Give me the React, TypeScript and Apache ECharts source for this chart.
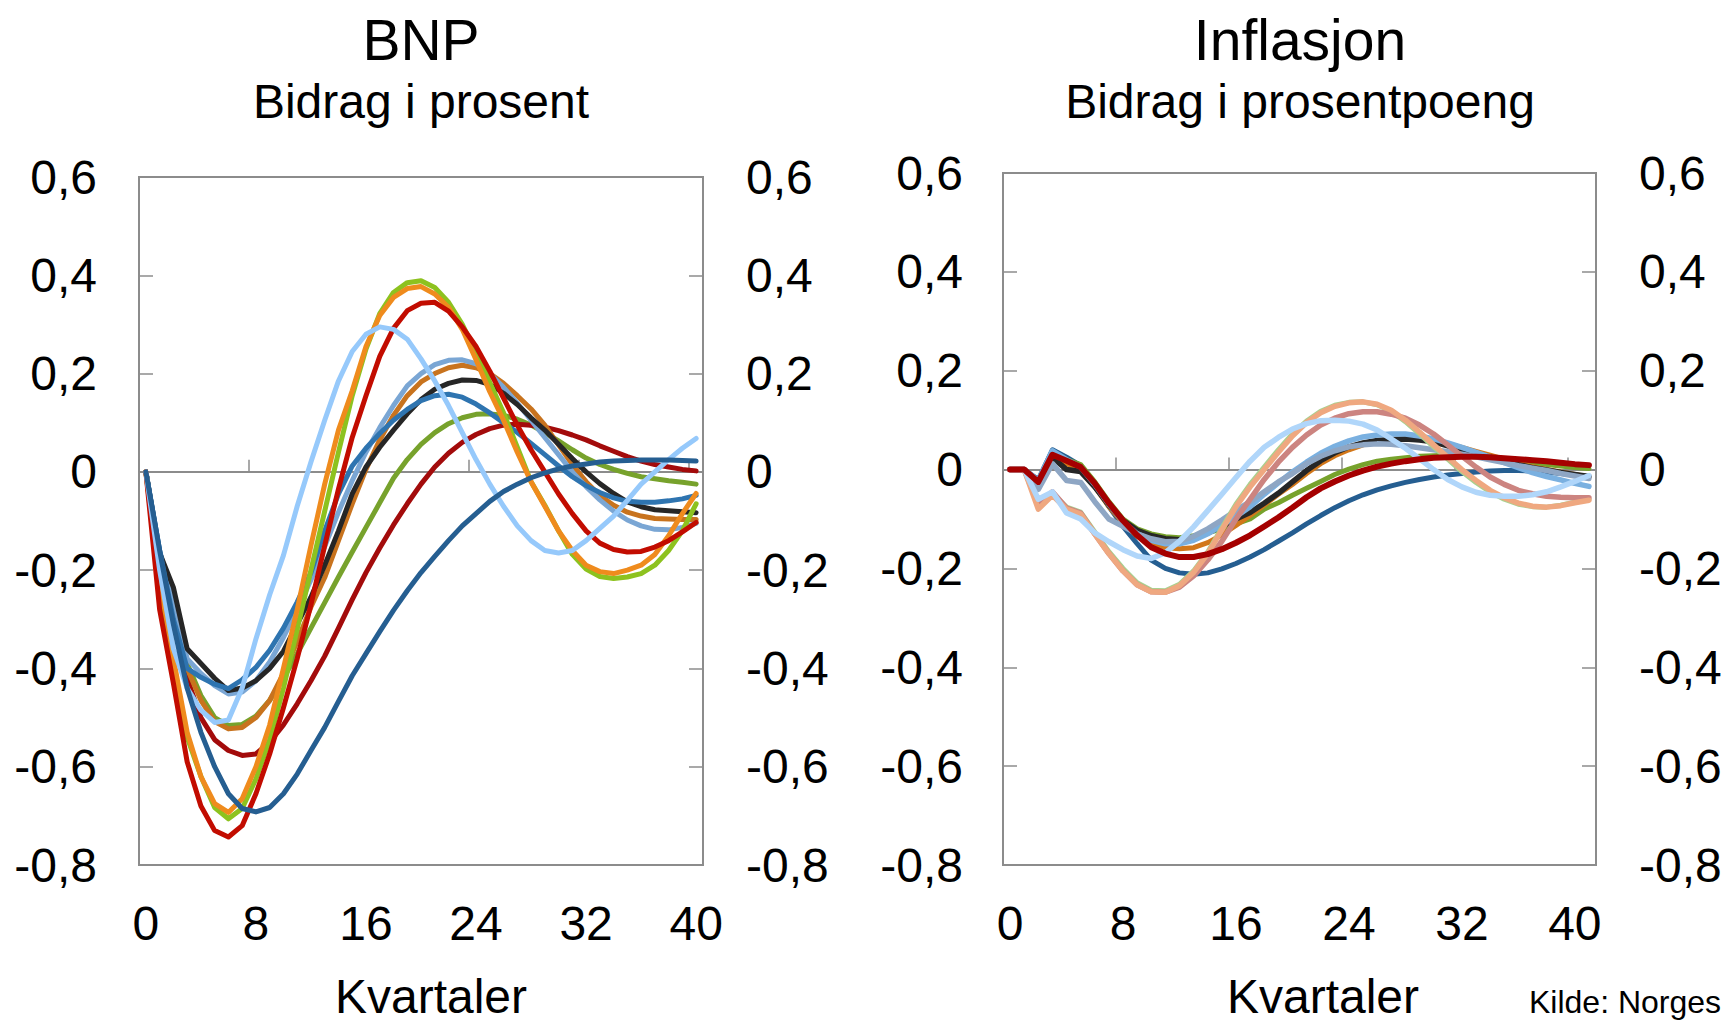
import React, { useEffect, useRef } from "react";
import * as echarts from "echarts";

// ---------- categories ----------
const bnpQuarters = ["0","1","2","3","4","5","6","7","8","9","10","11","12","13","14","15","16","17","18","19","20","21","22","23","24","25","26","27","28","29","30","31","32","33","34","35","36","37","38","39","40"];
const inflQuarters = ["0","1","2","3","4","5","6","7","8","9","10","11","12","13","14","15","16","17","18","19","20","21","22","23","24","25","26","27","28","29","30","31","32","33","34","35","36","37","38","39","40","41"];

// ---------- BNP (left panel) ----------
const bnpOlive = [0,-0.17,-0.29,-0.39,-0.455,-0.5,-0.516,-0.514,-0.497,-0.465,-0.42,-0.37,-0.318,-0.266,-0.214,-0.163,-0.113,-0.063,-0.013,0.025,0.056,0.08,0.098,0.11,0.117,0.118,0.115,0.107,0.095,0.08,0.063,0.045,0.028,0.015,0.005,-0.003,-0.01,-0.014,-0.018,-0.021,-0.025];
const bnpDarkRed = [0,-0.18,-0.31,-0.42,-0.5,-0.545,-0.567,-0.577,-0.574,-0.55,-0.515,-0.472,-0.425,-0.375,-0.318,-0.26,-0.205,-0.155,-0.108,-0.065,-0.025,0.01,0.038,0.06,0.076,0.088,0.095,0.097,0.095,0.091,0.084,0.075,0.065,0.053,0.042,0.031,0.022,0.015,0.01,0.005,0.002];
const bnpBrown = [0,-0.17,-0.29,-0.4,-0.465,-0.508,-0.523,-0.52,-0.5,-0.465,-0.41,-0.345,-0.275,-0.215,-0.14,-0.065,0.005,0.065,0.115,0.155,0.183,0.2,0.212,0.217,0.212,0.2,0.18,0.155,0.128,0.095,0.055,0.015,-0.02,-0.048,-0.068,-0.082,-0.09,-0.095,-0.096,-0.097,-0.097];
const bnpSteel = [0,-0.16,-0.27,-0.38,-0.41,-0.435,-0.452,-0.448,-0.425,-0.387,-0.337,-0.28,-0.22,-0.152,-0.082,-0.018,0.04,0.09,0.135,0.175,0.2,0.218,0.227,0.228,0.22,0.2,0.172,0.14,0.105,0.07,0.035,0,-0.03,-0.057,-0.08,-0.098,-0.11,-0.117,-0.118,-0.113,-0.105];
const bnpBlack = [0,-0.165,-0.235,-0.36,-0.39,-0.42,-0.445,-0.44,-0.425,-0.4,-0.365,-0.31,-0.255,-0.19,-0.12,-0.045,0.01,0.05,0.085,0.118,0.147,0.168,0.18,0.187,0.186,0.178,0.16,0.137,0.11,0.085,0.056,0.027,0,-0.024,-0.044,-0.061,-0.071,-0.077,-0.079,-0.081,-0.083];
const bnpBlue = [0,-0.16,-0.3,-0.4,-0.418,-0.432,-0.441,-0.423,-0.398,-0.363,-0.318,-0.265,-0.205,-0.12,-0.045,0.012,0.048,0.078,0.105,0.127,0.145,0.155,0.158,0.152,0.138,0.12,0.1,0.08,0.058,0.035,0.012,-0.01,-0.028,-0.042,-0.053,-0.06,-0.062,-0.062,-0.059,-0.055,-0.048];
const bnpGreen = [0,-0.24,-0.4,-0.54,-0.62,-0.683,-0.706,-0.685,-0.625,-0.545,-0.44,-0.32,-0.2,-0.08,0.04,0.155,0.25,0.322,0.365,0.385,0.389,0.375,0.345,0.3,0.243,0.182,0.12,0.05,-0.02,-0.068,-0.12,-0.168,-0.198,-0.213,-0.217,-0.214,-0.207,-0.19,-0.16,-0.12,-0.065];
const bnpOrange = [0,-0.22,-0.38,-0.53,-0.62,-0.675,-0.693,-0.665,-0.6,-0.515,-0.4,-0.28,-0.15,-0.025,0.085,0.165,0.255,0.318,0.355,0.373,0.377,0.362,0.335,0.29,0.228,0.163,0.105,0.04,-0.02,-0.07,-0.12,-0.16,-0.19,-0.203,-0.207,-0.2,-0.19,-0.168,-0.13,-0.085,-0.044];
const bnpRed = [0,-0.28,-0.43,-0.59,-0.68,-0.73,-0.743,-0.72,-0.655,-0.574,-0.48,-0.38,-0.27,-0.15,-0.035,0.07,0.155,0.235,0.292,0.328,0.343,0.345,0.327,0.295,0.255,0.205,0.15,0.095,0.045,0,-0.045,-0.085,-0.12,-0.145,-0.158,-0.163,-0.162,-0.153,-0.14,-0.122,-0.103];
const bnpSky = [0,-0.2,-0.36,-0.44,-0.485,-0.51,-0.505,-0.44,-0.34,-0.25,-0.17,-0.07,0.02,0.105,0.185,0.245,0.28,0.295,0.29,0.27,0.23,0.185,0.135,0.08,0.025,-0.025,-0.07,-0.11,-0.14,-0.16,-0.165,-0.16,-0.14,-0.115,-0.09,-0.058,-0.025,0,0.025,0.048,0.068];
const bnpNavy = [0,-0.16,-0.31,-0.44,-0.53,-0.6,-0.655,-0.685,-0.692,-0.683,-0.655,-0.615,-0.567,-0.52,-0.467,-0.415,-0.37,-0.325,-0.282,-0.242,-0.205,-0.172,-0.14,-0.11,-0.085,-0.06,-0.04,-0.025,-0.012,-0.002,0.006,0.012,0.016,0.02,0.022,0.023,0.024,0.024,0.024,0.023,0.022];

// ---------- Inflasjon (right panel) ----------
const inflNavy = [0,0,-0.02,0.04,0.025,0.008,-0.03,-0.075,-0.115,-0.15,-0.183,-0.2,-0.209,-0.212,-0.209,-0.201,-0.19,-0.177,-0.162,-0.145,-0.128,-0.11,-0.093,-0.077,-0.063,-0.051,-0.041,-0.033,-0.026,-0.02,-0.015,-0.011,-0.008,-0.005,-0.003,-0.002,-0.002,-0.003,-0.005,-0.008,-0.011,-0.014];
const inflOlive = [0,0,-0.025,0.035,0.02,0.01,-0.025,-0.065,-0.1,-0.12,-0.13,-0.136,-0.138,-0.134,-0.128,-0.12,-0.11,-0.1,-0.08,-0.067,-0.052,-0.038,-0.024,-0.01,0.001,0.01,0.017,0.021,0.024,0.027,0.028,0.029,0.028,0.026,0.023,0.02,0.017,0.013,0.01,0.007,0.004,0.002];
const inflBrown = [0,0,-0.028,0.03,0.012,0,-0.035,-0.075,-0.108,-0.135,-0.15,-0.158,-0.16,-0.158,-0.148,-0.132,-0.113,-0.093,-0.072,-0.05,-0.03,-0.008,0.012,0.028,0.04,0.05,0.056,0.06,0.062,0.061,0.058,0.052,0.045,0.037,0.029,0.021,0.013,0.006,0,-0.005,-0.01,-0.015];
const inflBlack = [0,0,-0.028,0.025,0,-0.004,-0.035,-0.072,-0.103,-0.123,-0.134,-0.14,-0.142,-0.137,-0.128,-0.115,-0.1,-0.087,-0.068,-0.048,-0.025,-0.002,0.018,0.034,0.046,0.054,0.059,0.061,0.062,0.06,0.056,0.048,0.04,0.032,0.025,0.017,0.01,0.004,-0.001,-0.006,-0.01,-0.014];
const inflSteel = [0,0,-0.022,0.038,0.02,0.005,-0.03,-0.07,-0.105,-0.13,-0.143,-0.15,-0.15,-0.143,-0.13,-0.113,-0.095,-0.075,-0.05,-0.027,-0.005,0.015,0.033,0.047,0.058,0.066,0.07,0.072,0.072,0.068,0.062,0.054,0.045,0.035,0.025,0.014,0.004,-0.006,-0.014,-0.021,-0.028,-0.034];
const inflGrayBlue = [0,0,-0.04,0.012,-0.022,-0.026,-0.065,-0.1,-0.115,-0.13,-0.14,-0.146,-0.145,-0.135,-0.12,-0.102,-0.083,-0.065,-0.045,-0.025,-0.008,0.012,0.027,0.038,0.046,0.05,0.052,0.051,0.048,0.044,0.04,0.036,0.031,0.026,0.02,0.014,0.008,0.003,-0.002,-0.008,-0.013,-0.018];
const inflLightGreen = [0,0,-0.075,-0.048,-0.076,-0.086,-0.126,-0.166,-0.2,-0.229,-0.244,-0.245,-0.232,-0.205,-0.167,-0.118,-0.07,-0.03,0.005,0.04,0.072,0.098,0.118,0.13,0.136,0.137,0.131,0.118,0.097,0.072,0.046,0.021,-0.004,-0.026,-0.045,-0.06,-0.07,-0.075,-0.076,-0.072,-0.066,-0.06];
const inflRose = [0,0,-0.07,-0.045,-0.078,-0.088,-0.13,-0.17,-0.205,-0.233,-0.247,-0.248,-0.238,-0.215,-0.183,-0.145,-0.1,-0.06,-0.02,0.015,0.045,0.07,0.09,0.104,0.113,0.117,0.117,0.112,0.104,0.09,0.072,0.05,0.027,0.005,-0.015,-0.03,-0.042,-0.049,-0.054,-0.056,-0.057,-0.057];
const inflSalmon = [0,0,-0.08,-0.052,-0.08,-0.09,-0.13,-0.17,-0.205,-0.233,-0.247,-0.248,-0.235,-0.208,-0.17,-0.122,-0.075,-0.035,0,0.035,0.068,0.095,0.115,0.128,0.135,0.137,0.132,0.12,0.1,0.076,0.05,0.025,0,-0.022,-0.042,-0.057,-0.068,-0.074,-0.076,-0.073,-0.067,-0.062];
const inflSky = [0,0,-0.06,-0.045,-0.088,-0.1,-0.128,-0.146,-0.162,-0.175,-0.18,-0.168,-0.145,-0.116,-0.083,-0.05,-0.016,0.017,0.045,0.065,0.082,0.093,0.099,0.1,0.098,0.092,0.08,0.062,0.043,0.022,0,-0.02,-0.035,-0.046,-0.052,-0.054,-0.054,-0.051,-0.045,-0.035,-0.024,-0.012];
const inflDarkRed = [0,0,-0.025,0.03,0.018,0.005,-0.028,-0.068,-0.103,-0.133,-0.157,-0.17,-0.177,-0.177,-0.171,-0.161,-0.148,-0.133,-0.115,-0.097,-0.077,-0.056,-0.038,-0.024,-0.012,-0.002,0.006,0.012,0.017,0.021,0.024,0.025,0.026,0.026,0.025,0.023,0.021,0.019,0.017,0.014,0.011,0.009];

// ---------- axis settings ----------
const yMin = -0.8;
const yMax = 0.6;
const yStep = 0.2;
const xLabelEvery = 8;

const FONT = "'Liberation Sans', Arial, Helvetica, sans-serif";
const FRAME = "#8c8c8c";

const fmtY = (v: number) => {
  const r = Math.round(v * 10) / 10;
  return r === 0 ? "0" : r.toFixed(1).replace(".", ",");
};

function buildOption() {
  const leftSeries: [number[], string, number][] = [
    [bnpOlive, "#77a22c", 5],
    [bnpDarkRed, "#a30b0b", 5],
    [bnpBrown, "#c8731e", 5],
    [bnpSteel, "#7aa6d4", 5],
    [bnpBlack, "#262626", 5],
    [bnpBlue, "#2e74b0", 5],
    [bnpGreen, "#8dc21f", 5],
    [bnpOrange, "#ef8b1d", 5],
    [bnpRed, "#c20c00", 5],
    [bnpSky, "#96c9fb", 5],
    [bnpNavy, "#255e91", 5],
  ];
  const rightSeries: [number[], string, number][] = [
    [inflNavy, "#255e91", 5],
    [inflOlive, "#77a22c", 5],
    [inflBrown, "#d2771a", 5],
    [inflBlack, "#262626", 5.5],
    [inflSteel, "#7ab0e0", 5.5],
    [inflGrayBlue, "#8ea6c4", 5.5],
    [inflLightGreen, "#a9d18e", 5],
    [inflRose, "#cc8480", 5.5],
    [inflSalmon, "#efa880", 5.5],
    [inflSky, "#b0d6fa", 5.5],
    [inflDarkRed, "#a50000", 6],
  ];

  const mkX = (grid: number, data: string[]) => ({
    type: "category",
    gridIndex: grid,
    data,
    boundaryGap: true,
    position: "bottom",
    axisLine: { show: false },
    axisTick: {
      show: true,
      inside: true,
      length: 12,
      interval: xLabelEvery - 1,
      lineStyle: { color: FRAME, width: 1.5 },
    },
    axisLabel: {
      interval: xLabelEvery - 1,
      fontSize: 48,
      color: "#000",
      fontFamily: FONT,
      margin: 34,
    },
    splitLine: { show: false },
  });
  const mkZero = (grid: number, data: string[]) => ({
    type: "category",
    gridIndex: grid,
    data,
    position: "top",
    axisLine: { show: true, onZero: true, lineStyle: { color: FRAME, width: 1.8 } },
    axisTick: { show: false },
    axisLabel: { show: false },
    splitLine: { show: false },
  });
  const mkY = (grid: number, pos: string, margin: number) => ({
    type: "value",
    gridIndex: grid,
    position: pos,
    min: yMin,
    max: yMax,
    interval: yStep,
    axisLine: { show: false },
    axisTick: { show: true, inside: true, length: 14, lineStyle: { color: FRAME, width: 1.5 } },
    axisLabel: { formatter: fmtY, fontSize: 48, color: "#000", fontFamily: FONT, margin },
    splitLine: { show: false },
  });

  const series: any[] = [];
  leftSeries.forEach(([d, c, w]) =>
    series.push({
      type: "line",
      xAxisIndex: 0,
      yAxisIndex: 0,
      data: d,
      showSymbol: false,
      symbol: "none",
      lineStyle: { color: c, width: w, cap: "round", join: "round" },
      itemStyle: { color: c },
      silent: true,
      z: 3,
    })
  );
  rightSeries.forEach(([d, c, w]) =>
    series.push({
      type: "line",
      xAxisIndex: 2,
      yAxisIndex: 2,
      data: d,
      showSymbol: false,
      symbol: "none",
      lineStyle: { color: c, width: w, cap: "round", join: "round" },
      itemStyle: { color: c },
      silent: true,
      z: 3,
    })
  );

  const txt = (x: number, y: number, text: string, size: number, align = "center") => ({
    type: "text",
    x,
    y,
    style: {
      text,
      fontSize: size,
      lineHeight: size,
      fontFamily: FONT,
      fill: "#000",
      align,
      verticalAlign: "middle",
    },
  });

  return {
    animation: false,
    backgroundColor: "#ffffff",
    grid: [
      { left: 139, top: 177, width: 564, height: 688, show: true, borderColor: FRAME, borderWidth: 2, backgroundColor: "transparent" },
      { left: 1003, top: 173, width: 593, height: 692, show: true, borderColor: FRAME, borderWidth: 2, backgroundColor: "transparent" },
    ],
    xAxis: [mkX(0, bnpQuarters), mkZero(0, bnpQuarters), mkX(1, inflQuarters), mkZero(1, inflQuarters)],
    yAxis: [mkY(0, "left", 42), mkY(0, "right", 43), mkY(1, "left", 40), mkY(1, "right", 43)],
    series,
    graphic: [
      txt(421, 40, "BNP", 57),
      txt(421, 101, "Bidrag i prosent", 48),
      txt(1300, 40, "Inflasjon", 57),
      txt(1300, 101, "Bidrag i prosentpoeng", 48),
      txt(431, 996, "Kvartaler", 48),
      txt(1323, 996, "Kvartaler", 48),
      txt(1529, 1002, "Kilde: Norges", 32, "left"),
    ],
  };
}

export default function App() {
  const ref = useRef<HTMLDivElement>(null);
  useEffect(() => {
    document.body.style.margin = "0";
    const chart = echarts.init(ref.current as HTMLDivElement, null, { renderer: "svg" });
    chart.setOption(buildOption() as any);
    return () => chart.dispose();
  }, []);
  return (
    <div
      ref={ref}
      style={{ position: "fixed", left: 0, top: 0, width: 1725, height: 1022, background: "#fff" }}
    />
  );
}
